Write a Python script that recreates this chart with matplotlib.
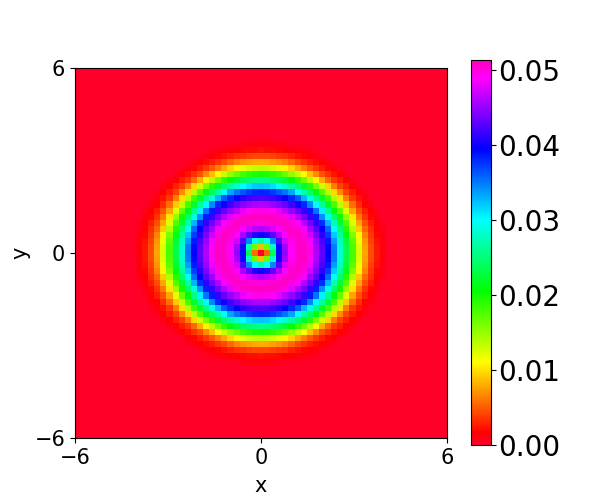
import numpy as np
import matplotlib
matplotlib.use("Agg")
import matplotlib.pyplot as plt

# one quadrant of the map, units of 1e-4
# each row is one cell further from the centre in y, each column in x
quadrant = [
    [0, 55, 235, 390, 450, 490, 505, 510, 495, 460, 430, 395, 350, 285, 235, 180, 125, 78, 46, 26, 12],
    [85, 165, 280, 402, 456, 492, 505, 509, 492, 458, 428, 392, 347, 282, 232, 178, 123, 76, 45, 25, 12],
    [270, 300, 345, 425, 474, 497, 507, 505, 484, 452, 421, 385, 336, 275, 225, 171, 117, 72, 42, 23, 10],
    [400, 408, 432, 458, 488, 505, 510, 498, 471, 441, 410, 372, 319, 263, 212, 159, 107, 65, 38, 20, 9],
    [460, 465, 476, 488, 503, 508, 502, 485, 453, 427, 396, 355, 297, 247, 194, 139, 92, 56, 33, 18, 7],
    [500, 502, 505, 507, 510, 502, 487, 460, 436, 411, 378, 328, 272, 226, 175, 123, 77, 45, 27, 13, 4],
    [509, 509, 509, 504, 497, 480, 459, 438, 413, 383, 342, 290, 246, 199, 150, 102, 62, 36, 20, 10, 2],
    [496, 495, 489, 479, 464, 449, 432, 413, 386, 351, 306, 258, 209, 168, 121, 77, 47, 28, 15, 5, 0],
    [459, 457, 452, 444, 433, 418, 400, 380, 345, 301, 261, 222, 179, 134, 92, 57, 34, 18, 9, 2, 0],
    [424, 422, 417, 409, 398, 380, 361, 327, 289, 256, 221, 181, 140, 100, 64, 38, 24, 12, 5, 0, 0],
    [382, 380, 374, 363, 351, 334, 299, 266, 242, 212, 175, 138, 98, 67, 42, 27, 15, 7, 2, 0, 0],
    [322, 319, 312, 299, 282, 265, 245, 222, 192, 161, 128, 95, 64, 42, 29, 17, 8, 2, 0, 0, 0],
    [257, 253, 248, 239, 226, 209, 188, 164, 138, 108, 81, 55, 38, 27, 17, 8, 2, 0, 0, 0, 0],
    [197, 195, 189, 181, 168, 151, 132, 110, 88, 67, 48, 35, 24, 15, 8, 2, 0, 0, 0, 0, 0],
    [135, 133, 128, 119, 107, 95, 79, 63, 49, 38, 28, 20, 13, 6, 2, 0, 0, 0, 0, 0, 0],
    [82, 80, 76, 71, 65, 56, 44, 36, 28, 21, 15, 9, 4, 1, 0, 0, 0, 0, 0, 0, 0],
    [44, 44, 42, 38, 35, 29, 24, 19, 14, 9, 5, 2, 0, 0, 0, 0, 0, 0, 0, 0, 0],
    [23, 22, 21, 20, 17, 14, 12, 9, 7, 4, 2, 0, 0, 0, 0, 0, 0, 0, 0, 0, 0],
    [10, 9, 9, 8, 6, 4, 3, 1, 0, 0, 0, 0, 0, 0, 0, 0, 0, 0, 0, 0, 0],
    [3, 3, 2, 2, 1, 1, 0, 0, 0, 0, 0, 0, 0, 0, 0, 0, 0, 0, 0, 0, 0],
]
n_cells = 61
axis_ticks = [-6, 0, 6]
bar_ticks = [0.00, 0.01, 0.02, 0.03, 0.04, 0.05]
vmax = 0.0513

half = n_cells // 2
z = np.zeros((n_cells, n_cells))
for j, row in enumerate(quadrant):
    for i, v in enumerate(row):
        for sy in (-1, 1):
            for sx in (-1, 1):
                z[half + sy * j, half + sx * i] = v * 1e-4

fig = plt.figure(figsize=(6, 5), dpi=100)
ax = fig.add_axes([75 / 600, 1 - 438 / 500, 372 / 600, 370 / 500])
cax = fig.add_axes([471 / 600, 1 - 445 / 500, 20 / 600, 385 / 500])

im = ax.imshow(z, cmap="gist_rainbow", origin="lower", extent=[-6, 6, -6, 6],
               vmin=0, vmax=vmax, aspect="auto", interpolation="nearest")
ax.set_xticks(axis_ticks)
ax.set_yticks(axis_ticks)
ax.tick_params(labelsize=15)
ax.set_xlabel("x", fontsize=15, labelpad=6)
ax.set_ylabel("y", fontsize=15, labelpad=3)

cb = fig.colorbar(im, cax=cax)
cb.set_ticks(bar_ticks)
cb.set_ticklabels([f"{t:.2f}" for t in bar_ticks])
cb.ax.tick_params(labelsize=20, pad=1.5)

fig.savefig("out.png", dpi=100)
